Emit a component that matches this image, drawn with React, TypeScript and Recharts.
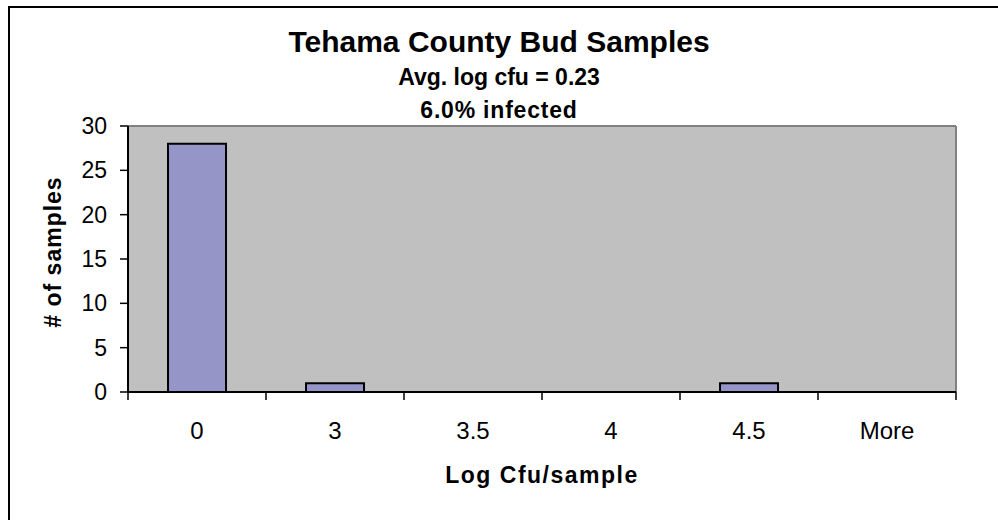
import {
  BarChart,
  Bar,
  XAxis,
  YAxis,
  CartesianGrid,
  ReferenceLine,
} from "recharts";

const bins = ["0", "3", "3.5", "4", "4.5", "More"];
const counts = [28, 1, 0, 0, 1, 0];
const yTicks = [0, 5, 10, 15, 20, 25, 30];
const edgeTicks = [0, 1, 2, 3, 4, 5, 6];

const titleLines = [
  "Tehama County Bud Samples",
  "Avg. log cfu = 0.23",
  "6.0% infected",
];

// pos = centre of each bin on the 0..6 edge axis
const data = bins.map((bin, i) => ({ bin, count: counts[i], pos: i + 0.5 }));

const FONT = "'Liberation Sans', Arial, sans-serif";
const W = 990;
const H = 514;

const NoLabel = () => <g />;

export default function App() {
  return (
    <div style={{ position: "absolute", left: 8, top: 6, width: W, height: H, fontFamily: FONT }}>
      <BarChart
        width={W}
        height={H}
        data={data}
        margin={{ top: 120, right: 42, bottom: 67, left: 0 }}
        barCategoryGap="29%"
      >
        <CartesianGrid fill="#c0c0c0" horizontal={false} vertical={false} />
        {/* boundary ticks between bins, Excel style */}
        <XAxis
          type="number"
          dataKey="pos"
          domain={[0, 6]}
          ticks={edgeTicks}
          allowDataOverflow
          height={1}
          tick={NoLabel}
          tickSize={8}
          tickLine={{ stroke: "#000", strokeWidth: 1.5 }}
          axisLine={{ stroke: "#000", strokeWidth: 2 }}
        />
        <XAxis
          xAxisId="cat"
          dataKey="bin"
          height={60}
          tickLine={false}
          axisLine={false}
          tickSize={0}
          tickMargin={29}
          tick={{ fill: "#000", fontSize: 24, fontFamily: FONT }}
          interval={0}
        />
        <YAxis
          width={120}
          domain={[0, 30]}
          ticks={yTicks}
          tickSize={8}
          tickMargin={13}
          tick={{ fill: "#000", fontSize: 23, fontFamily: FONT }}
          tickLine={{ stroke: "#000", strokeWidth: 1.5 }}
          axisLine={{ stroke: "#000", strokeWidth: 2 }}
        />
        <Bar
          xAxisId="cat"
          dataKey="count"
          fill="#9595c8"
          stroke="#000"
          strokeWidth={2}
          isAnimationActive={false}
        />
        <ReferenceLine y={30} stroke="#808080" strokeWidth={2} />
        <ReferenceLine x={6} stroke="#808080" strokeWidth={2} />
      </BarChart>
      <svg
        width={W}
        height={H}
        style={{ position: "absolute", left: 0, top: 0, pointerEvents: "none" }}
      >
        <line x1={1} y1={0} x2={1} y2={H} stroke="#000" strokeWidth={2} />
        <line x1={0} y1={1} x2={W} y2={1} stroke="#000" strokeWidth={2} />
        <text x={491} y={46} textAnchor="middle" fontSize={30} fontWeight="bold" fontFamily={FONT}>
          {titleLines[0]}
        </text>
        <text x={491} y={79} textAnchor="middle" fontSize={23} fontWeight="bold" fontFamily={FONT}>
          {titleLines[1]}
        </text>
        <text
          x={491}
          y={112}
          textAnchor="middle"
          fontSize={23}
          fontWeight="bold"
          fontFamily={FONT}
          letterSpacing={0.8}
        >
          {titleLines[2]}
        </text>
        <text
          x={534}
          y={477}
          textAnchor="middle"
          fontSize={23}
          fontWeight="bold"
          fontFamily={FONT}
          letterSpacing={1.5}
        >
          Log Cfu/sample
        </text>
        <text
          x={45}
          y={246}
          textAnchor="middle"
          dominantBaseline="central"
          transform="rotate(-90 45 246)"
          fontSize={23}
          fontWeight="bold"
          fontFamily={FONT}
          letterSpacing={1}
        >
          # of samples
        </text>
      </svg>
    </div>
  );
}
